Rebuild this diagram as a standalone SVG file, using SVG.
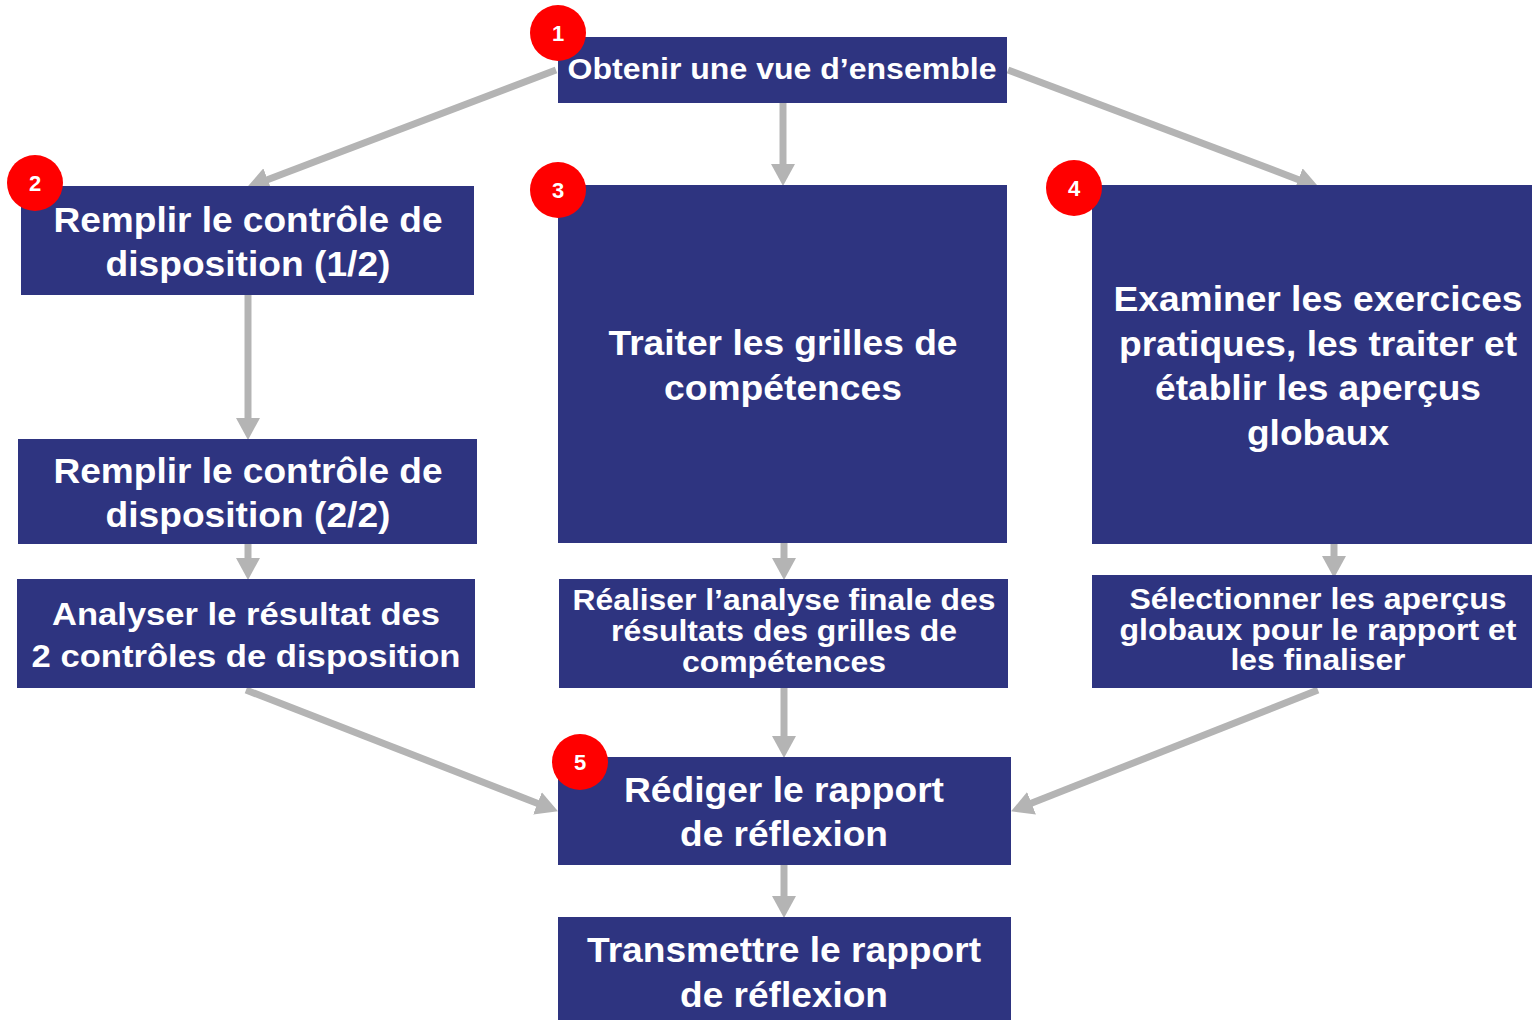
<svg xmlns="http://www.w3.org/2000/svg" width="1532" height="1020" viewBox="0 0 1532 1020">
<style>
.box{fill:#2e3480}
.t{font-family:"Liberation Sans",Arial,sans-serif;font-weight:bold;fill:#ffffff;text-anchor:middle}
.l{font-size:35px}
.m{font-size:31px}
.s{font-size:29px}
.badge{fill:#ff0000}
.bn{font-family:"Liberation Sans",Arial,sans-serif;font-weight:bold;fill:#ffffff;text-anchor:middle;font-size:22px}
.c{stroke:#b4b4b4;stroke-width:7;fill:none;marker-end:url(#ah)}
</style>
<defs>
<marker id="ah" viewBox="0 0 22 24" refX="1" refY="12" markerWidth="22" markerHeight="24" markerUnits="userSpaceOnUse" orient="auto">
<path d="M0,0 L22,12 L0,24 Z" fill="#b4b4b4"/>
</marker>
</defs>
<rect width="1532" height="1020" fill="#ffffff"/>
<g id="connectors">
<line class="c" x1="556" y1="70" x2="266.7" y2="179.9"/>
<line class="c" x1="783" y1="103" x2="783" y2="165"/>
<line class="c" x1="1008" y1="70" x2="1299.3" y2="179.9"/>
<line class="c" x1="248" y1="295" x2="248" y2="419"/>
<line class="c" x1="248" y1="544" x2="248" y2="559"/>
<line class="c" x1="784" y1="543" x2="784" y2="559"/>
<line class="c" x1="1334" y1="544" x2="1334" y2="557"/>
<line class="c" x1="246" y1="690" x2="538.4" y2="803.7"/>
<line class="c" x1="784" y1="688" x2="784" y2="737"/>
<line class="c" x1="1318" y1="690" x2="1030.6" y2="803.6"/>
<line class="c" x1="784" y1="864" x2="784" y2="897"/>
</g>
<g id="n1">
<rect class="box" x="558" y="37" width="449" height="66"/>
<text class="t s" x="782" y="79" textLength="429" lengthAdjust="spacingAndGlyphs">Obtenir une vue d’ensemble</text>
</g>
<g id="n2">
<rect class="box" x="21" y="186" width="453" height="109"/>
<text class="t l" x="248" y="232" textLength="389" lengthAdjust="spacingAndGlyphs">Remplir le contrôle de</text>
<text class="t l" x="248" y="276" textLength="285" lengthAdjust="spacingAndGlyphs">disposition (1/2)</text>
</g>
<g id="n2b">
<rect class="box" x="18" y="439" width="459" height="105"/>
<text class="t l" x="248" y="483" textLength="389" lengthAdjust="spacingAndGlyphs">Remplir le contrôle de</text>
<text class="t l" x="248" y="527" textLength="285" lengthAdjust="spacingAndGlyphs">disposition (2/2)</text>
</g>
<g id="n2c">
<rect class="box" x="17" y="579" width="458" height="109"/>
<text class="t m" x="246" y="625" textLength="388" lengthAdjust="spacingAndGlyphs">Analyser le résultat des</text>
<text class="t m" x="246" y="667" textLength="429" lengthAdjust="spacingAndGlyphs">2 contrôles de disposition</text>
</g>
<g id="n3">
<rect class="box" x="558" y="185" width="449" height="358"/>
<text class="t l" x="783" y="355" textLength="349" lengthAdjust="spacingAndGlyphs">Traiter les grilles de</text>
<text class="t l" x="783" y="400" textLength="238" lengthAdjust="spacingAndGlyphs">compétences</text>
</g>
<g id="n3b">
<rect class="box" x="559" y="579" width="449" height="109"/>
<text class="t s" x="784" y="610" textLength="423" lengthAdjust="spacingAndGlyphs">Réaliser l’analyse finale des</text>
<text class="t s" x="784" y="641" textLength="346" lengthAdjust="spacingAndGlyphs">résultats des grilles de</text>
<text class="t s" x="784" y="672" textLength="204" lengthAdjust="spacingAndGlyphs">compétences</text>
</g>
<g id="n4">
<rect class="box" x="1092" y="185" width="440" height="359"/>
<text class="t l" x="1318" y="311" textLength="409" lengthAdjust="spacingAndGlyphs">Examiner les exercices</text>
<text class="t l" x="1318" y="356" textLength="398" lengthAdjust="spacingAndGlyphs">pratiques, les traiter et</text>
<text class="t l" x="1318" y="400" textLength="326" lengthAdjust="spacingAndGlyphs">établir les aperçus</text>
<text class="t l" x="1318" y="445" textLength="142" lengthAdjust="spacingAndGlyphs">globaux</text>
</g>
<g id="n4b">
<rect class="box" x="1092" y="575" width="440" height="113"/>
<text class="t s" x="1318" y="609" textLength="377" lengthAdjust="spacingAndGlyphs">Sélectionner les aperçus</text>
<text class="t s" x="1318" y="640" textLength="397" lengthAdjust="spacingAndGlyphs">globaux pour le rapport et</text>
<text class="t s" x="1318" y="670" textLength="175" lengthAdjust="spacingAndGlyphs">les finaliser</text>
</g>
<g id="n5">
<rect class="box" x="558" y="757" width="453" height="108"/>
<text class="t l" x="784" y="802" textLength="320" lengthAdjust="spacingAndGlyphs">Rédiger le rapport</text>
<text class="t l" x="784" y="846" textLength="208" lengthAdjust="spacingAndGlyphs">de réflexion</text>
</g>
<g id="n6">
<rect class="box" x="558" y="917" width="453" height="103"/>
<text class="t l" x="784" y="962" textLength="394" lengthAdjust="spacingAndGlyphs">Transmettre le rapport</text>
<text class="t l" x="784" y="1007" textLength="208" lengthAdjust="spacingAndGlyphs">de réflexion</text>
</g>
<g id="badges">
<g id="b1"><circle class="badge" cx="558" cy="33" r="28"/><text class="bn" x="558" y="41">1</text></g>
<g id="b2"><circle class="badge" cx="35" cy="183" r="28"/><text class="bn" x="35" y="191">2</text></g>
<g id="b3"><circle class="badge" cx="558" cy="190" r="28"/><text class="bn" x="558" y="198">3</text></g>
<g id="b4"><circle class="badge" cx="1074" cy="188" r="28"/><text class="bn" x="1074" y="196">4</text></g>
<g id="b5"><circle class="badge" cx="580" cy="762" r="28"/><text class="bn" x="580" y="770">5</text></g>
</g>
</svg>
